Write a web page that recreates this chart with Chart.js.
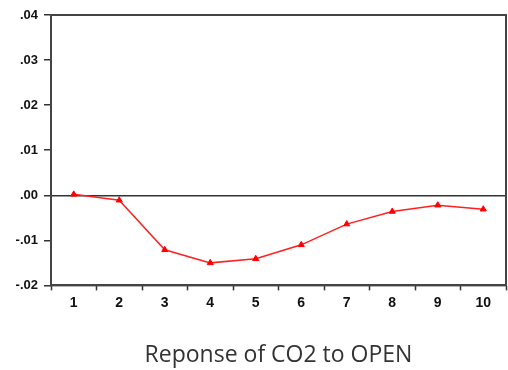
<!DOCTYPE html>
<html>
<head>
<meta charset="utf-8">
<script src="https://cdn.jsdelivr.net/npm/chart.js@4"></script>
<style>
html,body{margin:0;padding:0;background:#fff;}
#wrap{width:508px;height:370px;}
</style>
</head>
<body>
<div id="wrap"><canvas id="c" width="508" height="370"></canvas></div>
<script>
const periods = ['1','2','3','4','5','6','7','8','9','10'];
const responseCO2 = [0.0002, -0.0011, -0.0121, -0.0150, -0.0141, -0.0110, -0.0064, -0.0036, -0.0022, -0.0031];
const yTicks = [-0.02, -0.01, 0.00, 0.01, 0.02, 0.03, 0.04];
const titleText = 'Reponse of CO2 to OPEN';

function fmt(v){
  if (Math.abs(v) < 1e-9) return '.00';
  const s = Math.abs(v).toFixed(2).replace(/^0/, '');
  return (v < 0 ? '-' : '') + s;
}

const framePlugin = {
  id: 'frame',
  afterDraw(chart){
    const a = chart.chartArea, ctx = chart.ctx;
    ctx.save();
    ctx.strokeStyle = '#444';
    ctx.lineWidth = 2;
    ctx.strokeRect(a.left, a.top, a.right - a.left, a.bottom - a.top);
    ctx.restore();
  }
};

new Chart(document.getElementById('c'), {
  type: 'line',
  data: {
    labels: periods,
    datasets: [{
      data: responseCO2,
      borderColor: '#ff2020',
      backgroundColor: '#ff0000',
      borderWidth: 1.5,
      pointStyle: 'triangle',
      pointRadius: 3.5,
      pointBorderWidth: 1,
      pointBorderColor: '#ff0000',
      tension: 0,
      fill: false
    }]
  },
  options: {
    responsive: false,
    animation: false,
    devicePixelRatio: 1,
    layout: { autoPadding: false, padding: { left: 0, right: 2, top: 15, bottom: 0 } },
    plugins: {
      legend: { display: false },
      tooltip: { enabled: false },
      title: {
        display: true,
        fullSize: false,
        text: titleText,
        position: 'bottom',
        color: '#333',
        font: { family: '"Open Sans", "Noto Sans", sans-serif', size: 23, weight: 'normal' },
        padding: { top: 26, bottom: 1 }
      }
    },
    scales: {
      x: {
        type: 'category',
        offset: true,
        grid: {
          offset: true,
          drawOnChartArea: false,
          drawTicks: true,
          tickLength: 5,
          tickColor: '#333',
          tickWidth: 1.5
        },
        border: { display: true, color: '#444', width: 2 },
        ticks: {
          color: '#111',
          padding: 4,
          font: { family: '"Liberation Sans", Arial, sans-serif', size: 14, weight: 'bold' },
          maxRotation: 0
        },
        afterFit(s){ s.height = 30; }
      },
      y: {
        min: -0.02,
        max: 0.04,
        afterBuildTicks(s){ s.ticks = yTicks.map(v => ({ value: v })); },
        grid: {
          drawTicks: true,
          tickLength: 7,
          tickColor: '#333',
          tickWidth: 1.5,
          color: ctx => (ctx.tick && Math.abs(ctx.tick.value) < 1e-9) ? '#333' : 'rgba(0,0,0,0)',
          lineWidth: 1.5
        },
        border: { display: true, color: '#444', width: 2 },
        ticks: {
          color: '#111',
          padding: 6,
          font: { family: '"Liberation Sans", Arial, sans-serif', size: 13, weight: 'bold' },
          callback: v => fmt(v)
        },
        afterFit(s){ s.width = 51; }
      }
    }
  },
  plugins: [framePlugin]
});
</script>
</body>
</html>
